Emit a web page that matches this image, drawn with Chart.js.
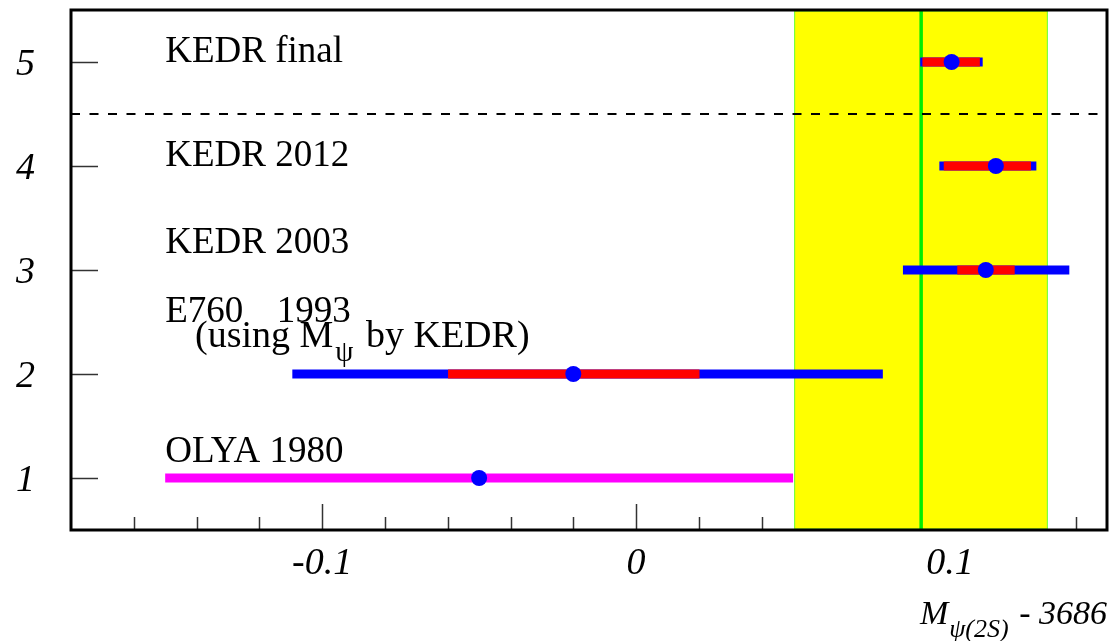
<!DOCTYPE html>
<html>
<head>
<meta charset="utf-8">
<script src="https://cdn.jsdelivr.net/npm/chart.js@4.4.1/dist/chart.umd.min.js"></script>
<style>
  html, body { margin: 0; padding: 0; background: #fff; }
  #wrap { width: 1115px; height: 641px; }
</style>
</head>
<body>
<div id="wrap"><canvas id="massChart" width="1115" height="641"></canvas></div>
<script>
var experiments = ['OLYA 1980', 'E760 1993', 'KEDR 2003', 'KEDR 2012', 'KEDR final'];
var rowY     = [1, 2, 3, 4, 5];
var centers  = [-0.050, -0.020, 0.1114, 0.1146, 0.1005];
var totalLo  = [-0.150, -0.1095, 0.0850, 0.0966, 0.0905];
var totalHi  = [0.050, 0.0786, 0.1380, 0.1275, 0.1104];
var statLo   = [null, -0.0599, 0.1023, 0.0980, 0.0912];
var statHi   = [null, 0.0202, 0.1206, 0.1258, 0.1095];

// average band and its centre
var bandLo = 0.0505;
var bandHi = 0.1310;
var bandMid = 0.0908;
var separatorY = 4.5;

// axes
var xMin = -0.18, xMax = 0.15;
var yMin = 0.5, yMax = 5.5;
var majorXTicks = [-0.1, 0, 0.1];
var majorXLabels = ['-0.1', '0', '0.1'];
var minorXTicks = [-0.16, -0.14, -0.12, -0.08, -0.06, -0.04, -0.02, 0.02, 0.04, 0.06, 0.08, 0.12, 0.14];
var yTicks = [1, 2, 3, 4, 5];
var yTickLabels = ['1', '2', '3', '4', '5'];

// label anchors (data units)
var labelX = [-0.15, -0.15, -0.15, -0.15, -0.15];
var labelY = [1.15, 2.5, 3.16, 4.0, 5.0];

var SERIF = '"Liberation Serif", "Times New Roman", serif';

var datasets = [];
for (let i = 0; i < experiments.length; i++) {
    datasets.push({
        label: experiments[i] + ' point',
        data: [{x: centers[i], y: rowY[i]}],
        backgroundColor: '#0000ff',
        borderWidth: 0,
        pointRadius: 8,
        pointHoverRadius: 8,
        order: 0
    });
    if (statLo[i] !== null) {
        datasets.push({
            label: experiments[i] + ' stat',
            data: [{x: statLo[i], y: rowY[i]}, {x: statHi[i], y: rowY[i]}],
            showLine: true,
            borderColor: '#ff0000',
            borderWidth: 9,
            borderCapStyle: 'butt',
            pointRadius: 0,
            order: 1
        });
    }
    datasets.push({
        label: experiments[i] + ' total',
        data: [{x: totalLo[i], y: rowY[i]}, {x: totalHi[i], y: rowY[i]}],
        showLine: true,
        borderColor: i === 0 ? '#ff00ff' : '#0000ff',
        borderWidth: 9,
        borderCapStyle: 'butt',
        pointRadius: 0,
        order: 2
    });
}

var decor = {
    id: 'decor',
    beforeDatasetsDraw(chart) {
        var c = chart.ctx, a = chart.chartArea;
        var xs = chart.scales.x, ys = chart.scales.y;
        c.save();
        // ticks on the bottom axis, pointing in
        c.strokeStyle = '#333';
        c.lineWidth = 1.5;
        minorXTicks.forEach(function (v) {
            var px = Math.round(xs.getPixelForValue(v)) + 0.5;
            c.beginPath(); c.moveTo(px, a.bottom); c.lineTo(px, a.bottom - 13); c.stroke();
        });
        majorXTicks.forEach(function (v) {
            var px = Math.round(xs.getPixelForValue(v)) + 0.5;
            c.beginPath(); c.moveTo(px, a.bottom); c.lineTo(px, a.bottom - 26); c.stroke();
        });
        yTicks.forEach(function (v) {
            var py = Math.round(ys.getPixelForValue(v)) + 0.5;
            c.beginPath(); c.moveTo(a.left, py); c.lineTo(a.left + 27, py); c.stroke();
        });
        // yellow band
        var b0 = xs.getPixelForValue(bandLo), b1 = xs.getPixelForValue(bandHi);
        c.fillStyle = '#ffff00';
        c.fillRect(b0, a.top + 1, b1 - b0, a.bottom - a.top - 2);
        c.strokeStyle = '#66ff33';
        c.lineWidth = 1;
        c.strokeRect(b0, a.top + 1, b1 - b0, a.bottom - a.top - 2);
        // centre value
        var g = xs.getPixelForValue(bandMid);
        c.strokeStyle = '#00ee00';
        c.lineWidth = 3.5;
        c.beginPath(); c.moveTo(g, a.top); c.lineTo(g, a.bottom); c.stroke();
        // separator
        var sy = ys.getPixelForValue(separatorY);
        c.strokeStyle = '#000';
        c.lineWidth = 2;
        c.setLineDash([9, 9.5]);
        c.beginPath(); c.moveTo(a.left, sy); c.lineTo(a.right, sy); c.stroke();
        c.restore();
    },
    afterDraw(chart) {
        var c = chart.ctx, a = chart.chartArea;
        var xs = chart.scales.x, ys = chart.scales.y;
        c.save();
        // frame
        c.strokeStyle = '#000';
        c.lineWidth = 3;
        c.strokeRect(a.left, a.top, a.right - a.left, a.bottom - a.top);

        c.fillStyle = '#000';
        // tick labels
        c.font = 'italic 38px ' + SERIF;
        c.textAlign = 'center';
        c.textBaseline = 'alphabetic';
        majorXTicks.forEach(function (v, i) {
            c.fillText(majorXLabels[i], xs.getPixelForValue(v), a.bottom + 44);
        });
        c.font = 'italic 38px ' + SERIF;
        c.textAlign = 'right';
        yTicks.forEach(function (v, i) {
            c.fillText(yTickLabels[i], 35, ys.getPixelForValue(v) + 13);
        });

        // experiment labels
        c.font = '37px ' + SERIF;
        c.textAlign = 'left';
        var names = ['OLYA 1980', 'E760', 'KEDR 2003', 'KEDR 2012', 'KEDR final'];
        names.forEach(function (t, i) {
            c.fillText(t, xs.getPixelForValue(labelX[i]), ys.getPixelForValue(labelY[i]));
        });
        c.fillText('1993', xs.getPixelForValue(-0.1145), ys.getPixelForValue(labelY[1]));
        // (using M_psi by KEDR)
        var ux = xs.getPixelForValue(-0.1405), uy = ys.getPixelForValue(2.26);
        c.font = '38px ' + SERIF;
        c.fillText('(using M', ux, uy);
        ux += c.measureText('(using M').width;
        c.font = '29px ' + SERIF;
        c.fillText('\u03c8', ux + 2, uy + 14);
        ux += c.measureText('\u03c8').width + 5;
        c.font = '38px ' + SERIF;
        c.fillText(' by KEDR)', ux, uy);

        // axis title, right aligned under the frame
        var big = 'italic 34px ' + SERIF, small = 'italic 26px ' + SERIF;
        c.font = big;
        var wM = c.measureText('M').width, wT = c.measureText(' - 3686').width;
        c.font = small;
        var wS = c.measureText('\u03c8(2S)').width;
        var tx = a.right - (wM + wS + 3 + wT), ty = a.bottom + 94;
        c.font = big;
        c.fillText('M', tx, ty);
        c.font = small;
        c.fillText('\u03c8(2S)', tx + wM + 1, ty + 13);
        c.font = big;
        c.fillText(' - 3686', tx + wM + wS + 3, ty);
        c.restore();
    }
};

var chart = new Chart(document.getElementById('massChart').getContext('2d'), {
    type: 'scatter',
    data: { datasets: datasets },
    options: {
        responsive: false,
        animation: false,
        events: [],
        layout: { padding: { left: 71, right: 5, top: 10, bottom: 111 } },
        plugins: {
            legend: { display: false },
            tooltip: { enabled: false }
        },
        scales: {
            x: { type: 'linear', min: xMin, max: xMax, display: false },
            y: { type: 'linear', min: yMin, max: yMax, display: false }
        }
    },
    plugins: [decor]
});
</script>
</body>
</html>
